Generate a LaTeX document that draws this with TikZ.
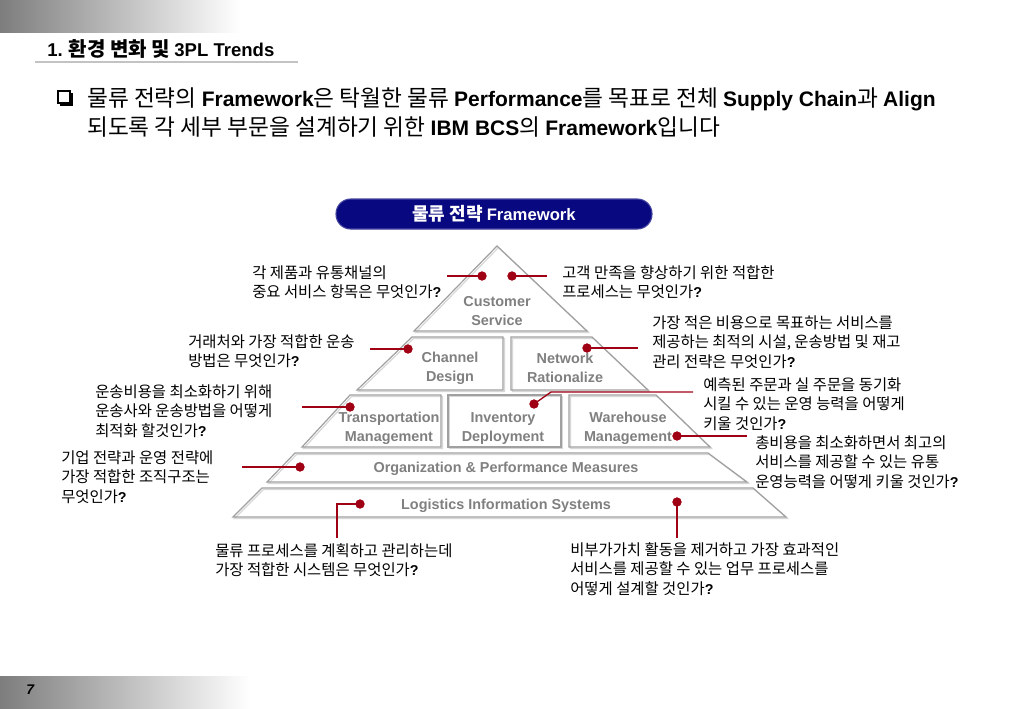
\documentclass[tikz,border=0pt]{standalone}
\usepackage{fontspec}
\setmainfont[Scale=1.08]{Noto Sans CJK KR}
\newfontfamily\arial{Liberation Sans}
\newcommand\LB[1]{{\arial\bfseries #1}}
\definecolor{dred}{RGB}{160,0,20}
\definecolor{pgray}{RGB}{160,160,160}
\definecolor{pshadow}{RGB}{215,215,215}
\definecolor{lgray}{RGB}{128,128,128}
\definecolor{navyb}{RGB}{8,8,128}
\definecolor{barg}{RGB}{125,125,125}
\begin{document}
\begin{tikzpicture}[x=0.75pt,y=-0.75pt,
  tier/.style={draw=pgray, line width=0.9pt, line join=miter},
  tiershadow/.style={draw=pshadow, line width=0.9pt},
  tierlbl/.style={text=lgray, font=\arial\bfseries\fontsize{10.8}{14.25}\selectfont, align=center, inner sep=0},
  note/.style={font=\fontsize{10.7}{14.6}\selectfont, align=left, anchor=west, inner sep=0},
  lead/.style={draw=dred, line width=1pt},
  dot/.style={circle, fill=dred, inner sep=0, minimum size=6.8pt}
]
\useasboundingbox (0,0) rectangle (1023,708);
\fill[white] (0,0) rectangle (1023,708);

% gradient bars
\shade[left color=barg, right color=white] (0,0) rectangle (240,32);
\shade[left color=barg, right color=white] (0,676) rectangle (250,708);
\node[anchor=west, inner sep=0, font=\arial\bfseries\itshape\fontsize{10.5}{12}\selectfont] (pg) at (26,690) {7};

% header
\node[anchor=west, inner sep=0, font=\fontsize{13.9}{16}\selectfont] (hdr) at (47,49) {\LB{1.} {\bfseries 환경 변화 및} \LB{3PL Trends}};
\draw[draw={rgb,255:red,195;green,195;blue,195}, line width=0.9pt] (35,62) -- (298,62);

% checkbox
\draw[line width=0.9pt] (58,91) rectangle (70,103);
\fill (60,103) rectangle (72.5,105.5);
\fill (70,93) rectangle (72.5,105.5);

% heading
\node[anchor=west, inner sep=0, align=left, font=\fontsize{15.75}{21.75}\selectfont] (head) at (87,112.5)
 {물류 전략의 \LB{Framework}은 탁월한 물류 \LB{Performance}를 목표로 전체 \LB{Supply Chain}과 \LB{Align}\\
  되도록 각 세부 부문을 설계하기 위한 \LB{IBM BCS}의 \LB{Framework}입니다};

% title pill
\node[fill=navyb, draw={rgb,255:red,70;green,70;blue,160}, line width=0.8pt, rounded corners=11pt,
  minimum width=237pt, minimum height=22.5pt, text=white, font=\fontsize{12.5}{14}\selectfont\bfseries] (pill) at (494,214)
  {물류 전략 \LB{Framework}};

% pyramid shadows
\begin{scope}[shift={(1.5,1.5)}]
\draw[tiershadow] (497,246) -- (587,331) -- (414,331) -- cycle;
\draw[tiershadow] (412,337) -- (503,337) -- (503,390) -- (357,390) -- cycle;
\draw[tiershadow] (511,337) -- (592,337) -- (648,390) -- (511,390) -- cycle;
\draw[tiershadow] (350,395) -- (441,395) -- (441,447) -- (302,447) -- cycle;
\draw[tiershadow] (448,395) -- (561,395) -- (561,447) -- (448,447) -- cycle;
\draw[tiershadow] (569,395) -- (656,395) -- (710,447) -- (569,447) -- cycle;
\draw[tiershadow] (295,453) -- (708,453) -- (747,482) -- (267,482) -- cycle;
\draw[tiershadow] (262,488) -- (753,488) -- (786,517) -- (233,517) -- cycle;
\end{scope}
% pyramid tiers
\draw[tier] (497,246) -- (587,331) -- (414,331) -- cycle;
\draw[tier] (412,337) -- (503,337) -- (503,390) -- (357,390) -- cycle;
\draw[tier] (511,337) -- (592,337) -- (648,390) -- (511,390) -- cycle;
\draw[tier] (350,395) -- (441,395) -- (441,447) -- (302,447) -- cycle;
\draw[tier] (448,395) -- (561,395) -- (561,447) -- (448,447) -- cycle;
\draw[tier] (569,395) -- (656,395) -- (710,447) -- (569,447) -- cycle;
\draw[tier] (295,453) -- (708,453) -- (747,482) -- (267,482) -- cycle;
\draw[tier] (262,488) -- (753,488) -- (786,517) -- (233,517) -- cycle;

% tier labels
\node[tierlbl] (cs)  at (497,311.5) {Customer\\Service};
\node[tierlbl] (ch)  at (450,368) {Channel\\Design};
\node[tierlbl] (nw)  at (565,368) {Network\\Rationalize};
\node[tierlbl] (tr)  at (389,428.5) {Transportation\\Management};
\node[tierlbl] (inv) at (503,428.5) {Inventory\\Deployment};
\node[tierlbl] (wh)  at (628,428.5) {Warehouse\\Management};
\node[tierlbl] (org) at (506,469) {Organization \& Performance Measures};
\node[tierlbl] (lis) at (506,506) {Logistics Information Systems};

% notes
\node[note] (n1) at (252,282) {각 제품과 유통채널의\\중요 서비스 항목은 무엇인가\LB{?}};
\node[note] (n2) at (562,282) {고객 만족을 향상하기 위한 적합한\\프로세스는 무엇인가\LB{?}};
\node[note] (n3) at (188,351) {거래처와 가장 적합한 운송\\방법은 무엇인가\LB{?}};
\node[note] (n4) at (652,342) {가장 적은 비용으로 목표하는 서비스를\\제공하는 최적의 시설, 운송방법 및 재고\\관리 전략은 무엇인가\LB{?}};
\node[note] (n5) at (95,411) {운송비용을 최소화하기 위해\\운송사와 운송방법을 어떻게\\최적화 할것인가\LB{?}};
\node[note] (n6) at (703,404) {예측된 주문과 실 주문을 동기화\\시킬 수 있는 운영 능력을 어떻게\\키울 것인가\LB{?}};
\node[note] (n7) at (61,477) {기업 전략과 운영 전략에\\가장 적합한 조직구조는\\무엇인가\LB{?}};
\node[note] (n8) at (755,462) {총비용을 최소화하면서 최고의\\서비스를 제공할 수 있는 유통\\운영능력을 어떻게 키울 것인가\LB{?}};
\node[note] (n9) at (215,560) {물류 프로세스를 계획하고 관리하는데\\가장 적합한 시스템은 무엇인가\LB{?}};
\node[note] (n10) at (570,569) {비부가가치 활동을 제거하고 가장 효과적인\\서비스를 제공할 수 있는 업무 프로세스를\\어떻게 설계할 것인가\LB{?}};

% leader dots
\node[dot] (d1) at (482,276) {};
\node[dot] (d2) at (512,276) {};
\node[dot] (d3) at (408,349) {};
\node[dot] (d4) at (587,348) {};
\node[dot] (d5) at (534,404) {};
\node[dot] (d6) at (350,407) {};
\node[dot] (d7) at (677,436) {};
\node[dot] (d8) at (300,467) {};
\node[dot] (d9) at (360,504) {};
\node[dot] (d10) at (677,502) {};

% free ends
\coordinate (e1) at (447,276);
\coordinate (e2) at (547,276);
\coordinate (e3) at (370,349);
\coordinate (e4) at (638,348);
\coordinate (e5b) at (551,392);
\coordinate (e5) at (693,392);
\coordinate (e6) at (302,407);
\coordinate (e7) at (747,436);
\coordinate (e8) at (242,467);
\coordinate (e9b) at (337,504);
\coordinate (e9) at (337,538);
\coordinate (e10) at (677,538);

\draw[lead] (e1) -- (d1.center);
\draw[lead] (d2.center) -- (e2);
\draw[lead] (e3) -- (d3.center);
\draw[lead] (d4.center) -- (e4);
\draw[lead] (d5.center) -- (e5b) -- (e5);
\draw[lead] (e6) -- (d6.center);
\draw[lead] (d7.center) -- (e7);
\draw[lead] (e8) -- (d8.center);
\draw[lead] (d9.center) -- (e9b) -- (e9);
\draw[lead] (d10.center) -- (e10);
\foreach \d in {d1,d2,d3,d4,d5,d6,d7,d8,d9,d10} \fill[dred] (\d) circle (3.4pt);
\end{tikzpicture}
\end{document}
